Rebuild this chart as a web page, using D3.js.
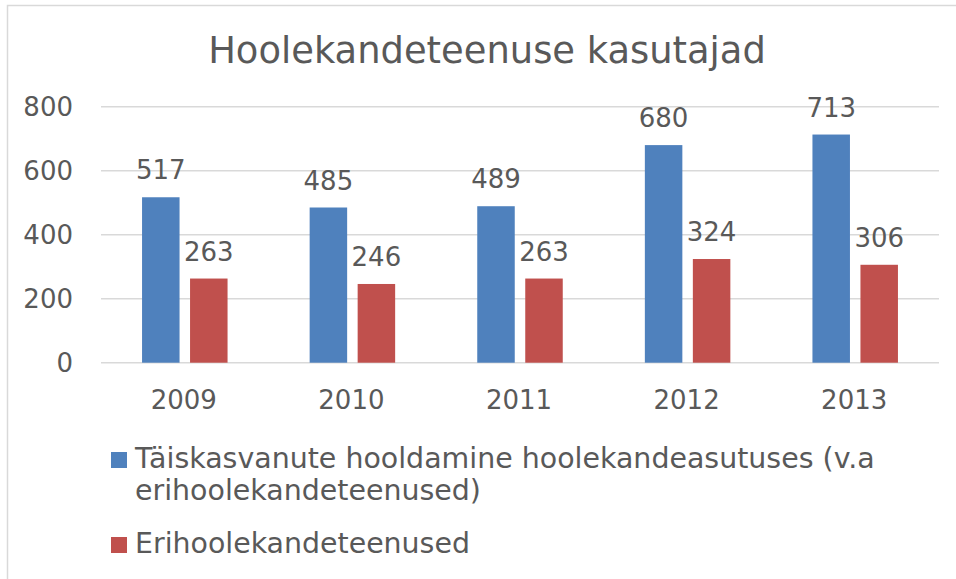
<!DOCTYPE html>
<html>
<head>
<meta charset="utf-8">
<title>Hoolekandeteenuse kasutajad</title>
<script src="https://cdn.jsdelivr.net/npm/d3@7"></script>
<style>
    html, body { margin: 0; background: #fff; }
    svg text { font-family: "DejaVu Sans", sans-serif; fill: #595959; }
</style>
</head>
<body>
<script>
    var years = ["2009", "2010", "2011", "2012", "2013"];
    var adults = [517, 485, 489, 680, 713];
    var special = [263, 246, 263, 324, 306];
    var seriesNames = ["Täiskasvanute hooldamine hoolekandeasutuses (v.a", "erihoolekandeteenused)"];
    var seriesNames2 = ["Erihoolekandeteenused"];
    var yTicks = [0, 200, 400, 600, 800];
    var colors = ["#4f81bd", "#c0504d"];

    var w = 956, h = 579;
    var plotL = 101, plotR = 939, plotT = 106.7, plotB = 362.7;

    var svg = d3.select("body").append("svg")
        .attr("width", w).attr("height", h);

    // chart frame (right / bottom edges fall outside the image)
    svg.append("rect")
        .attr("x", 7.5).attr("y", 5.5)
        .attr("width", 1200).attr("height", 1200)
        .attr("fill", "#fff")
        .attr("stroke", "#d9d9d9").attr("stroke-width", 1.5);

    var x = d3.scaleBand().domain(years).range([plotL, plotR]);
    var y = d3.scaleLinear().domain([0, 800]).range([plotB, plotT]);

    // shrink/grow font so a text spans roughly the width seen in the reference
    function fitWidth(sel, target) {
        var len = sel.node().getComputedTextLength();
        var fs = parseFloat(sel.style("font-size"));
        sel.style("font-size", (fs * target / len) + "px");
    }

    var title = svg.append("text")
        .attr("x", 487).attr("y", 63)
        .attr("text-anchor", "middle")
        .style("font-size", "32px")
        .text("Hoolekandeteenuse kasutajad");
    fitWidth(title, 558);

    svg.selectAll(".grid").data(yTicks).enter().append("line")
        .attr("x1", plotL).attr("x2", plotR)
        .attr("y1", function (d) { return y(d); })
        .attr("y2", function (d) { return y(d); })
        .attr("stroke", "#d9d9d9").attr("stroke-width", 1.5);

    svg.selectAll(".ytick").data(yTicks).enter().append("text")
        .attr("x", 73).attr("y", function (d) { return y(d) + 9.5; })
        .attr("text-anchor", "end")
        .style("font-size", "26px")
        .text(function (d) { return d; });

    svg.selectAll(".xtick").data(years).enter().append("text")
        .attr("x", function (d) { return x(d) + x.bandwidth() / 2 - 1; })
        .attr("y", 409)
        .attr("text-anchor", "middle")
        .style("font-size", "26px")
        .text(function (d) { return d; });

    var barW = 37.5, gap = 10.5;
    [adults, special].forEach(function (vals, s) {
        var off = s === 0 ? -gap / 2 - barW : gap / 2;
        var g = svg.append("g");
        g.selectAll("rect").data(vals).enter().append("rect")
            .attr("x", function (d, i) { return x(years[i]) + x.bandwidth() / 2 + off; })
            .attr("y", function (d) { return y(d); })
            .attr("width", barW)
            .attr("height", function (d) { return y(0) - y(d); })
            .attr("fill", colors[s]);
        g.selectAll("text").data(vals).enter().append("text")
            .attr("x", function (d, i) { return x(years[i]) + x.bandwidth() / 2 + off + barW / 2; })
            .attr("y", function (d) { return y(d) - 18; })
            .attr("text-anchor", "middle")
            .style("font-size", "26px")
            .text(function (d) { return d; });
    });

    // legend
    var legend = [
        {lines: seriesNames, y: 452, color: colors[0], width: 740},
        {lines: seriesNames2, y: 537, color: colors[1], width: 335}
    ];
    legend.forEach(function (l) {
        svg.append("rect")
            .attr("x", 111).attr("y", l.y)
            .attr("width", 16).attr("height", 16)
            .attr("fill", l.color);
        var fs;
        l.lines.forEach(function (t, i) {
            var txt = svg.append("text")
                .attr("x", 135).attr("y", l.y + 16 + i * 32)
                .style("font-size", "24px")
                .text(t);
            if (i === 0) {
                fitWidth(txt, l.width);
                fs = txt.style("font-size");
            } else {
                txt.style("font-size", fs);
            }
        });
    });
</script>
</body>
</html>
